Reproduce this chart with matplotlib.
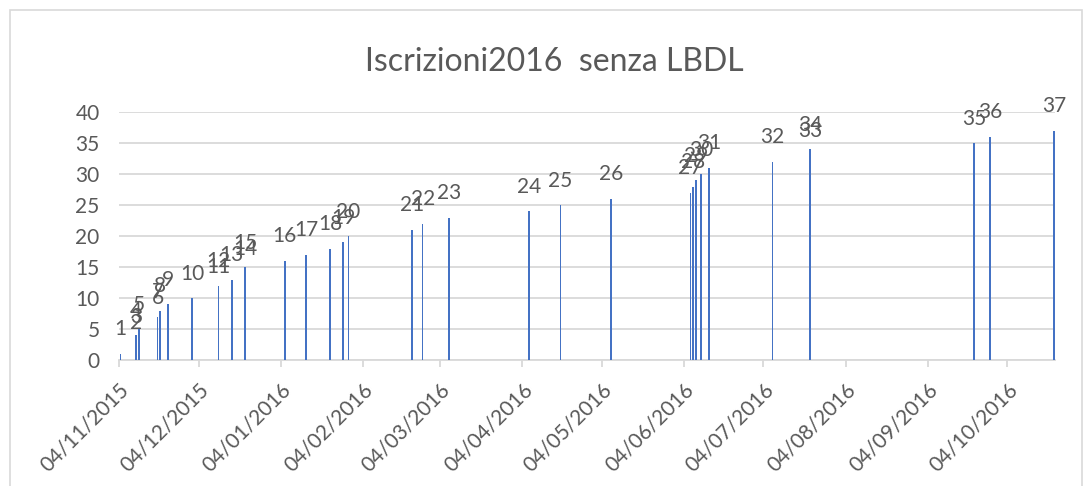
import datetime as dt
import matplotlib
matplotlib.use('Agg')
import matplotlib.pyplot as plt
import matplotlib.dates as mdates
from matplotlib.patches import Rectangle

# Data: one bar per registration, height = running count
dates = ['2015-11-04', '2015-11-10', '2015-11-10', '2015-11-10', '2015-11-11',
         '2015-11-18', '2015-11-18', '2015-11-19', '2015-11-22', '2015-12-01',
         '2015-12-11', '2015-12-11', '2015-12-16', '2015-12-21', '2015-12-21',
         '2016-01-05', '2016-01-13', '2016-01-22', '2016-01-27', '2016-01-29',
         '2016-02-22', '2016-02-26', '2016-03-07', '2016-04-06', '2016-04-18',
         '2016-05-07', '2016-06-06', '2016-06-07', '2016-06-08', '2016-06-10',
         '2016-06-13', '2016-07-07', '2016-07-21', '2016-07-21', '2016-09-21',
         '2016-09-27', '2016-10-21']
values = [1, 2, 3, 4, 5, 6, 7, 8, 9, 10, 11, 12, 13, 14, 15, 16, 17, 18, 19,
          20, 21, 22, 23, 24, 25, 26, 27, 28, 29, 30, 31, 32, 33, 34, 35, 36, 37]
tick_dates = ['2015-11-04', '2015-12-04', '2016-01-04', '2016-02-04',
              '2016-03-04', '2016-04-04', '2016-05-04', '2016-06-04',
              '2016-07-04', '2016-08-04', '2016-09-04', '2016-10-04']
title = 'Iscrizioni2016  senza LBDL'

TEXT = '#595959'
GRID = '#D9D9D9'
BLUE = '#4472C4'
plt.rcParams['font.family'] = ['Lato', 'DejaVu Sans']

x = [dt.datetime.strptime(d, '%Y-%m-%d') + dt.timedelta(hours=12) for d in dates]
ticks = [dt.datetime.strptime(d, '%Y-%m-%d') for d in tick_dates]

fig = plt.figure(figsize=(10.9, 4.86), dpi=100)
ax = fig.add_axes([0.1092, 0.2587, 0.8588, 0.5103])

# chart frame
fig.patches.append(Rectangle((10 / 1090, -0.1), 1072 / 1090, 1.1 - 10 / 486,
                             transform=fig.transFigure, fill=False,
                             edgecolor=GRID, linewidth=1.2))

ax.bar(x, values, width=0.6, color=BLUE, zorder=3)
for xi, v in zip(x, values):
    ax.annotate(str(v), (xi, v), xytext=(0, 13.5), textcoords='offset points',
                ha='center', va='baseline', fontsize=15, color=TEXT)

ax.set_xlim(ticks[0], dt.datetime(2016, 10, 22))
ax.set_ylim(0, 40)
ax.set_yticks(range(0, 41, 5))
ax.yaxis.grid(True, color=GRID, linewidth=1.3)
ax.set_axisbelow(True)

ax.set_xticks(ticks)
ax.xaxis.set_major_formatter(mdates.DateFormatter('%d/%m/%Y'))
plt.setp(ax.get_xticklabels(), rotation=45, ha='right', rotation_mode='anchor')

ax.tick_params(axis='y', length=0, pad=14, labelsize=15, labelcolor=TEXT)
ax.tick_params(axis='x', length=5, width=1.3, color=GRID, pad=9,
               labelsize=15, labelcolor=TEXT)
for side in ['top', 'right', 'left']:
    ax.spines[side].set_visible(False)
ax.spines['bottom'].set_color(GRID)
ax.spines['bottom'].set_linewidth(1.3)

fig.text(0.509, 0.872, title, ha='center', va='center', fontsize=23, color=TEXT)

fig.savefig('out.png', dpi=100)
